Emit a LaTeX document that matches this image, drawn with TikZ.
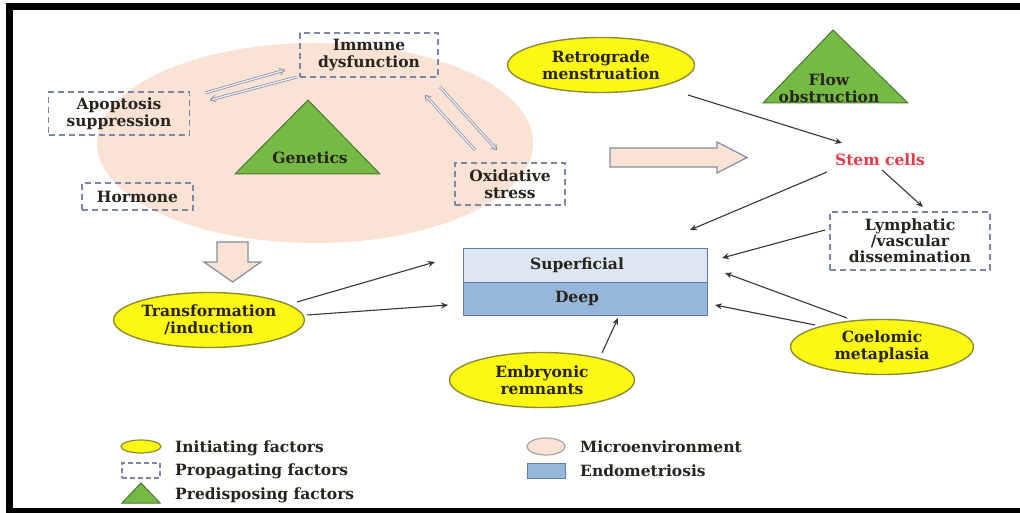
\documentclass[tikz,border=0pt]{standalone}
\usepackage{fontspec}
\setmainfont{DejaVu Serif}
\usetikzlibrary{arrows.meta,shapes.geometric}
\definecolor{peach}{RGB}{250,227,213}
\definecolor{dashc}{RGB}{125,135,165}
\definecolor{yfill}{RGB}{252,248,20}
\definecolor{ydraw}{RGB}{140,140,55}
\definecolor{gfill}{RGB}{118,186,70}
\definecolor{gdraw}{RGB}{75,120,45}
\definecolor{supfill}{RGB}{220,231,243}
\definecolor{deepfill}{RGB}{150,182,218}
\definecolor{boxdraw}{RGB}{95,125,170}
\definecolor{txt}{RGB}{40,36,30}
\definecolor{stemred}{RGB}{228,60,72}
\definecolor{arrc}{RGB}{55,55,55}
\definecolor{dblc}{RGB}{130,140,165}
\definecolor{dblin}{RGB}{236,236,244}
\tikzset{
  dbox/.style={draw=dashc, line width=1.2pt, dash pattern=on 6pt off 4pt, align=center, text=txt, inner sep=0pt},
  yell/.style={ellipse, draw=ydraw, line width=1.4pt, fill=yfill, align=center, text=txt, inner sep=0pt},
  tri/.style={draw=gdraw, line width=1pt, fill=gfill},
  arr/.style={draw=arrc, line width=1.1pt, -{Stealth[length=7pt,width=6pt]}},
  dbl/.style={draw=dblc, line width=0.7pt, double=dblin, double distance=1.4pt, -{Straight Barb[length=5pt,width=7pt]}},
  bigarr/.style={draw=dblc, line width=1.2pt, fill=peach},
  lab/.style={text=txt, anchor=west, inner sep=0pt},
}
\begin{document}
\begin{tikzpicture}[x=1pt,y=-1pt,font=\bfseries\fontsize{15.5}{17}\selectfont]
\useasboundingbox (0,0) rectangle (1020,513);
\fill[white] (0,0) rectangle (1020,513);
% frame
\fill[black] (6,3) rectangle (13,513);
\fill[black] (6,3) rectangle (1020,10);
\fill[black] (6,508) rectangle (1020,513);
% microenvironment
\fill[peach] (315,143) ellipse [x radius=218, y radius=100];
% genetics triangle
\draw[tri] (308,100) -- (380,174) -- (235,174) -- cycle;
\node[text=txt] (genetics) at (310,158) {Genetics};
% flow obstruction
\draw[tri] (833,30) -- (908,103) -- (763,103) -- cycle;
\node[text=txt, align=center] (flow) at (829,88) {Flow\\obstruction};
% dashed boxes
\node[dbox, minimum width=138pt, minimum height=44pt] (immune) at (369,55) {Immune\\dysfunction};
\node[dbox, minimum width=141pt, minimum height=43pt] (apop) at (119,113.5) {Apoptosis\\suppression};
\node[dbox, minimum width=111pt, minimum height=27pt] (hormone) at (137.5,196.5) {Hormone};
\node[dbox, minimum width=110pt, minimum height=42pt] (oxid) at (510,184) {Oxidative\\stress};
\node[dbox, minimum width=160pt, minimum height=58pt, font=\bfseries\fontsize{15.5}{16}\selectfont] (lymph) at (910,241) {Lymphatic\\/vascular\\dissemination};
% ellipses
\node[yell, minimum width=187pt, minimum height=55pt] (retro) at (601,65) {Retrograde\\menstruation};
\node[yell, minimum width=185pt, minimum height=55pt] (trans) at (209,320) {Transformation\\/induction};
\node[yell, minimum width=185pt, minimum height=55pt] (embryo) at (542,380) {Embryonic\\remnants};
\node[yell, minimum width=183pt, minimum height=55pt] (coel) at (882,347) {Coelomic\\metaplasia};
% stem cells
\node[text=stemred] (stem) at (880,160) {Stem cells};
% endometriosis box
\node[draw=boxdraw, line width=1pt, fill=supfill, minimum width=244pt, minimum height=34pt, inner sep=0pt, text=txt, text width=244pt, align=center] (sup) at (585,265) {\hspace*{-16pt}Superficial};
\node[draw=boxdraw, line width=1pt, fill=deepfill, minimum width=244pt, minimum height=33pt, inner sep=0pt, text=txt, text width=244pt, align=center] (deep) at (585,298.5) {\hspace*{-16pt}Deep};
% big arrows
\filldraw[bigarr] (610,148) -- (717,148) -- (717,142) -- (747,157.5) -- (717,173) -- (717,167) -- (610,167) -- cycle;
\filldraw[bigarr] (217,242) -- (248,242) -- (248,262) -- (261,262) -- (232.5,282) -- (204,262) -- (217,262) -- cycle;
% arrow end coordinates
\coordinate (a1s) at (688,95);  \coordinate (a1e) at (842,143);
\coordinate (a2s) at (827,172); \coordinate (a2e) at (690,230);
\coordinate (a3s) at (882,170); \coordinate (a3e) at (923,207);
\coordinate (a4s) at (825,230); \coordinate (a4e) at (722,258);
\coordinate (a5s) at (847,318); \coordinate (a5e) at (725,273);
\coordinate (a6s) at (815,325); \coordinate (a6e) at (715,305);
\coordinate (a7s) at (602,353); \coordinate (a7e) at (618,318);
\coordinate (a8s) at (297,302); \coordinate (a8e) at (435,262);
\coordinate (a9s) at (307,315); \coordinate (a9e) at (448,305);
\draw[arr] (a1s) -- (a1e);
\draw[arr] (a2s) -- (a2e);
\draw[arr] (a3s) -- (a3e);
\draw[arr] (a4s) -- (a4e);
\draw[arr] (a5s) -- (a5e);
\draw[arr] (a6s) -- (a6e);
\draw[arr] (a7s) -- (a7e);
\draw[arr] (a8s) -- (a8e);
\draw[arr] (a9s) -- (a9e);
% double arrows
\coordinate (d1s) at (205,93);  \coordinate (d1e) at (285,70);
\coordinate (d2s) at (297,77);  \coordinate (d2e) at (210,100);
\coordinate (d3s) at (440,87);  \coordinate (d3e) at (497,150);
\coordinate (d4s) at (475,150); \coordinate (d4e) at (425,95);
\draw[dbl] (d1s) -- (d1e);
\draw[dbl] (d2s) -- (d2e);
\draw[dbl] (d3s) -- (d3e);
\draw[dbl] (d4s) -- (d4e);
% legend
\node[ellipse, draw=ydraw, line width=1.2pt, fill=yfill, minimum width=40pt, minimum height=13pt, inner sep=0pt] (lg1) at (141,446.5) {};
\node[draw=dashc, line width=1.2pt, dash pattern=on 5pt off 3pt, minimum width=38pt, minimum height=15pt, inner sep=0pt] (lg2) at (141,470.5) {};
\draw[tri] (141,483) -- (160,503) -- (122,503) -- cycle;
\node[lab] (lt1) at (175,448) {Initiating factors};
\node[lab] (lt2) at (175,471) {Propagating factors};
\node[lab] (lt3) at (175,495) {Predisposing factors};
\node[ellipse, draw=gray!70, line width=1.2pt, fill=peach, minimum width=38pt, minimum height=17pt, inner sep=0pt] (lg4) at (546,446.5) {};
\node[draw=boxdraw, line width=1pt, fill=deepfill, minimum width=38pt, minimum height=15pt, inner sep=0pt] (lg5) at (546,470.5) {};
\node[lab] (lt4) at (580,447) {Microenvironment};
\node[lab] (lt5) at (580,471) {Endometriosis};
\end{tikzpicture}
\end{document}
